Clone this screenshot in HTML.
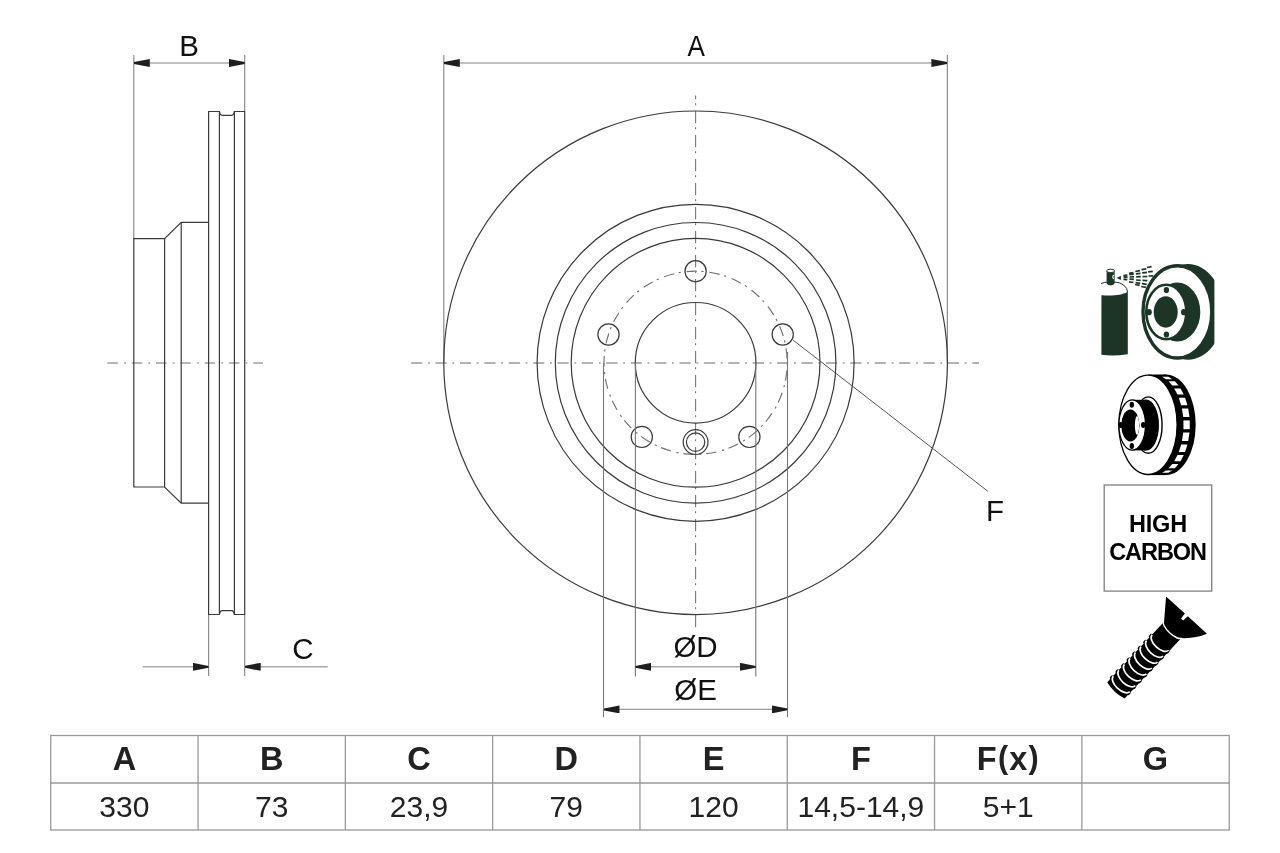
<!DOCTYPE html>
<html><head><meta charset="utf-8"><title>Brake disc</title>
<style>
html,body{margin:0;padding:0;background:#fff;width:1280px;height:853px;overflow:hidden}
svg{display:block;position:absolute;left:0;top:0}
text{font-family:"Liberation Sans",sans-serif;filter:grayscale(1)}
</style></head><body>
<svg width="1280" height="853" viewBox="0 0 1280 853">
<defs>
<marker id="ar" viewBox="0 0 16 8" refX="16" refY="4" markerWidth="16" markerHeight="8" markerUnits="userSpaceOnUse" orient="auto-start-reverse">
<path d="M0,0 L16,3.1 L16,4.9 L0,8 Z" fill="#1e1e1e"/>
</marker>
</defs>

<!-- ============ SIDE VIEW ============ -->
<g fill="none" stroke="#8c8c8c" stroke-width="1.2">
  <!-- B extension lines -->
  <line x1="133.8" y1="55" x2="133.8" y2="238.6"/>
  <line x1="244.7" y1="55" x2="244.7" y2="111.5"/>
  <!-- C extension lines -->
  <line x1="208.6" y1="614.5" x2="208.6" y2="676"/>
  <line x1="244.7" y1="614.5" x2="244.7" y2="676"/>
</g>
<!-- B dimension -->
<line x1="133.8" y1="63" x2="244.7" y2="63" stroke="#aaa" stroke-width="1.5" marker-start="url(#ar)" marker-end="url(#ar)"/>
<!-- C dimension -->
<line x1="142.8" y1="666.8" x2="208.6" y2="666.8" stroke="#aaa" stroke-width="1.5" marker-end="url(#ar)"/>
<line x1="327.7" y1="666.8" x2="244.7" y2="666.8" stroke="#aaa" stroke-width="1.5" marker-end="url(#ar)"/>

<!-- side center line -->
<line x1="107.4" y1="362.9" x2="263" y2="362.9" stroke="#a0a0a0" stroke-width="1.5" stroke-dasharray="10.5 6.3 1.7 5.8"/>
<g fill="none" stroke="#3a3a3a" stroke-width="1.2">
  <!-- disc outline -->
  <path d="M208.6,614.5 V111.5 H219.4 Q220,115.3 222,115.4 H231.8 Q233.8,115.3 234.4,111.5 H244.7 V614.5 H234.4 Q233.8,610.7 231.8,610.6 H222 Q220,610.7 219.4,614.5 Z"/>
  <line x1="219.4" y1="111.5" x2="219.4" y2="614.5"/>
  <line x1="234.4" y1="111.5" x2="234.4" y2="614.5"/>
  <!-- hub -->
  <path d="M208.6,222.4 H181.2 L164.6,238.6 H133.8 V487 H164.6 L181.2,503.1 H208.6"/>
  <line x1="181.2" y1="222.4" x2="181.2" y2="503.1"/>
  <line x1="164.6" y1="238.6" x2="164.6" y2="487"/>
</g>

<text x="189" y="55.5" font-size="29.5" text-anchor="middle" fill="#111">B</text>
<text x="303" y="658.5" font-size="29.5" text-anchor="middle" fill="#111">C</text>

<!-- ============ FRONT VIEW ============ -->
<g fill="none" stroke="#8c8c8c" stroke-width="1.2">
  <line x1="443.8" y1="55" x2="443.8" y2="362.8"/>
  <line x1="947.4" y1="55" x2="947.4" y2="362.8"/>
</g>
<line x1="443.8" y1="63" x2="947.4" y2="63" stroke="#aaa" stroke-width="1.5" marker-start="url(#ar)" marker-end="url(#ar)"/>
<text x="696.3" y="56" font-size="29.5" text-anchor="middle" fill="#111" textLength="17.4" lengthAdjust="spacingAndGlyphs">A</text>

<!-- PCD -->
<circle cx="695.6" cy="362.8" r="91.6" fill="none" stroke="#707070" stroke-width="1.15" stroke-dasharray="10.4 4.6 2.2 5.82" stroke-dashoffset="-7.52"/>
<!-- center lines -->
<line x1="411.1" y1="363" x2="979" y2="363" stroke="#9a9a9a" stroke-width="1.6" stroke-dasharray="11.2 5.7 1.8 5.7"/>
<line x1="695.6" y1="95.6" x2="695.6" y2="628.7" stroke="#777" stroke-width="1.1" stroke-dasharray="12.2 4 2 5.8" stroke-dashoffset="8.6"/>

<g fill="none" stroke="#3a3a3a" stroke-width="1.2">
  <circle cx="695.6" cy="362.8" r="251.8"/>
  <circle cx="695.6" cy="362.8" r="158.5"/>
  <circle cx="695.6" cy="362.8" r="140.3"/>
  <circle cx="695.6" cy="362.8" r="124.4"/>
  <circle cx="695.6" cy="362.8" r="60.3"/>
  <!-- bolt holes -->
  <circle cx="695.6" cy="271.2" r="10.6"/>
  <circle cx="782.7" cy="334.5" r="10.6"/>
  <circle cx="608.5" cy="334.5" r="10.6"/>
  <circle cx="749.4" cy="436.9" r="10.6"/>
  <circle cx="641.8" cy="436.9" r="10.6"/>
  <!-- set screw -->
  <circle cx="695.6" cy="442.1" r="12.4"/>
  <circle cx="695.6" cy="442.1" r="9.2"/>
</g>
<!-- D, E extension lines -->
<g stroke="#777" stroke-width="1.1">
  <line x1="635.4" y1="363" x2="635.4" y2="676.4"/>
  <line x1="755.8" y1="363" x2="755.8" y2="676.4"/>
  <line x1="603.5" y1="363" x2="603.5" y2="717.2"/>
  <line x1="787.5" y1="352" x2="787.5" y2="717.2"/>
</g>
<line x1="635.4" y1="666.8" x2="755.8" y2="666.8" stroke="#aaa" stroke-width="1.5" marker-start="url(#ar)" marker-end="url(#ar)"/>
<line x1="603.5" y1="709.4" x2="787.5" y2="709.4" stroke="#9c9c9c" stroke-width="1.25" marker-start="url(#ar)" marker-end="url(#ar)"/>
<text x="695.5" y="657" font-size="29.5" text-anchor="middle" fill="#111">ØD</text>
<text x="695.5" y="699.5" font-size="29.5" text-anchor="middle" fill="#111">ØE</text>

<!-- F leader -->
<line x1="793.2" y1="340.2" x2="987.9" y2="491.3" stroke="#555" stroke-width="1"/>
<text x="995" y="521" font-size="29.5" text-anchor="middle" fill="#111">F</text>

<!-- ============ TABLE ============ -->
<g fill="none" stroke="#999" stroke-width="1.3">
  <rect x="50.75" y="735.5" width="1178.5" height="94.5"/>
  <line x1="50.75" y1="783" x2="1229.25" y2="783"/>
</g>
<g fill="#222" text-anchor="middle">
<text x="124.40" y="770" font-size="32.5" font-weight="bold">A</text>
<text x="124.40" y="816.8" font-size="30">330</text>
<text x="271.70" y="770" font-size="32.5" font-weight="bold">B</text>
<text x="271.70" y="816.8" font-size="30">73</text>
<text x="419.00" y="770" font-size="32.5" font-weight="bold">C</text>
<text x="419.00" y="816.8" font-size="30">23,9</text>
<text x="566.30" y="770" font-size="32.5" font-weight="bold">D</text>
<text x="566.30" y="816.8" font-size="30">79</text>
<text x="713.60" y="770" font-size="32.5" font-weight="bold">E</text>
<text x="713.60" y="816.8" font-size="30">120</text>
<text x="860.90" y="770" font-size="32.5" font-weight="bold">F</text>
<text x="860.90" y="816.8" font-size="30">14,5-14,9</text>
<text x="1008.4" y="770.3" font-size="32.5" font-weight="bold" letter-spacing="1.2">F<tspan font-size="30.5" dy="-2.6">(</tspan><tspan dy="2.6">x</tspan><tspan font-size="30.5" dy="-2.6">)</tspan></text>
<text x="1008.20" y="816.8" font-size="30">5+1</text>
<text x="1155.50" y="770" font-size="32.5" font-weight="bold">G</text>
</g>
<g stroke="#999" stroke-width="1.3">
<line x1="198.05" y1="735.5" x2="198.05" y2="830"/>
<line x1="345.35" y1="735.5" x2="345.35" y2="830"/>
<line x1="492.65" y1="735.5" x2="492.65" y2="830"/>
<line x1="639.95" y1="735.5" x2="639.95" y2="830"/>
<line x1="787.25" y1="735.5" x2="787.25" y2="830"/>
<line x1="934.55" y1="735.5" x2="934.55" y2="830"/>
<line x1="1081.85" y1="735.5" x2="1081.85" y2="830"/>
</g>

<!-- ============ ICONS ============ -->
<!-- icon 1: spray + disc (dark green) -->
<g fill="#1c3526" stroke="none">
  <clipPath id="cp1"><rect x="1130" y="255" width="84.4" height="110"/></clipPath>
  <ellipse cx="1188" cy="311.85" rx="35.4" ry="47.85" clip-path="url(#cp1)"/>
  <ellipse cx="1177.4" cy="311.85" rx="34.4" ry="46.15" fill="#fff" stroke="#1c3526" stroke-width="3.4"/>
  <ellipse cx="1177.3" cy="312" rx="23" ry="29.5"/>
  <ellipse cx="1166.3" cy="312" rx="20" ry="27.2" fill="#fff" stroke="#1c3526" stroke-width="2.6"/>
  <ellipse cx="1165.7" cy="312" rx="12" ry="15.7"/>
  <ellipse cx="1166.4" cy="290" rx="2.7" ry="3.1"/>
  <ellipse cx="1166.4" cy="334.5" rx="2.7" ry="3.1"/>
  <ellipse cx="1149.1" cy="312.2" rx="2.7" ry="3.1"/>
  <ellipse cx="1183.7" cy="312.2" rx="2.7" ry="3.1"/>
  <!-- spray can -->
  <path d="M1101.4,295.2 C1110,295.7 1121,296 1127.8,291.8 V354.2 Q1114,356.2 1101.4,354.8 Z"/>
  <path d="M1101.1,283.6 Q1104,282.2 1108,282 M1114,282 A13.6,10.4 0 0 1 1127.6,292.4" fill="none" stroke="#1c3526" stroke-width="1"/>
  <path d="M1106.6,271 V282 Q1106,284.6 1110.6,285.4 Q1115.2,284.6 1114.6,282 V271 Z"/>
  <ellipse cx="1110.6" cy="270.9" rx="4" ry="1.7" fill="#fff" stroke="#1c3526" stroke-width="1"/>
  <path d="M1114,275.4 a1.3,1.6 0 1 0 0,3.2" fill="none" stroke="#fff" stroke-width="1.1"/>
  <path d="M1116.6,278 L1120.9,275.8 L1120.9,280 Z"/>
  <path d="M1123.4,275.6 L1127.4,275.1 M1123.6,277.3 L1127.6,277.2 M1123.5,279.3 L1127.4,279.7 M1129.0,273.4 L1133.4,272.6 M1129.3,274.7 L1133.7,274.2 M1129.6,277.0 L1134.0,276.9 M1129.5,279.2 L1133.9,279.4 M1129.0,281.8 L1133.4,282.5 M1135.3,271.5 L1139.9,270.7 M1135.9,273.8 L1140.5,273.4 M1136.2,276.8 L1140.8,276.7 M1136.1,280.0 L1140.7,280.3 M1135.6,282.7 L1140.2,283.3 M1135.1,284.5 L1139.6,285.3 M1141.5,269.6 L1146.2,268.8 M1142.2,272.8 L1147.0,272.3 M1142.6,276.6 L1147.4,276.5 M1142.5,280.4 L1147.3,280.7 M1141.9,283.7 L1146.7,284.4 M1141.2,286.5 L1145.9,287.4 M1147.1,267.5 L1151.6,266.7 M1148.1,271.8 L1152.7,271.4 M1148.6,276.0 L1153.2,275.8" fill="none" stroke="#1c3526" stroke-width="1.7" stroke-linecap="butt"/>
</g>

<!-- icon 2: vented disc (black) -->
<g fill="#000">
  <ellipse cx="1166" cy="424.8" rx="29.7" ry="50.3"/>
  <rect x="1148" y="374.5" width="18" height="100.6"/>
  <g fill="#fff">
    <polygon points="1162.02,376.73 1168.32,376.73 1172.24,379.13 1165.94,379.13"/>
    <polygon points="1168.53,381.33 1174.83,381.33 1178.59,385.61 1172.29,385.61"/>
    <polygon points="1174.22,388.42 1180.52,388.42 1183.77,394.49 1177.47,394.49"/>
    <polygon points="1178.79,397.64 1185.09,397.64 1187.47,405.18 1181.17,405.18"/>
    <polygon points="1181.93,408.51 1188.23,408.51 1189.49,416.99 1183.19,416.99"/>
    <polygon points="1183.43,420.40 1189.73,420.40 1189.73,429.20 1183.43,429.20"/>
    <polygon points="1183.19,432.61 1189.49,432.61 1188.23,441.09 1181.93,441.09"/>
    <polygon points="1181.17,444.42 1187.47,444.42 1185.09,451.96 1178.79,451.96"/>
    <polygon points="1177.47,455.11 1183.77,455.11 1180.52,461.18 1174.22,461.18"/>
    <polygon points="1172.29,463.99 1178.59,463.99 1174.83,468.27 1168.53,468.27"/>
    <polygon points="1165.94,470.47 1172.24,470.47 1168.32,472.87 1162.02,472.87"/>
  </g>
  <ellipse cx="1148" cy="424.8" rx="29.1" ry="49.7" fill="#fff" stroke="#000" stroke-width="1.3"/>
  <ellipse cx="1148.3" cy="425.1" rx="13.8" ry="28.2" fill="#fff" stroke="#000" stroke-width="1.4"/>
  <ellipse cx="1146" cy="425.1" rx="13" ry="25.5"/>
  <rect x="1132" y="399.8" width="14" height="50.6"/>
  <ellipse cx="1132.2" cy="425" rx="13.3" ry="25.2" fill="#fff" stroke="#000" stroke-width="1.3"/>
  <ellipse cx="1130.4" cy="425.45" rx="9.1" ry="16.05"/>
  <ellipse cx="1137" cy="425.4" rx="2.1" ry="9.5" fill="#fff"/>
  <ellipse cx="1131.8" cy="404.8" rx="2.2" ry="3"/>
  <ellipse cx="1131.8" cy="446.1" rx="2.2" ry="3"/>
  <ellipse cx="1120.6" cy="424.9" rx="2.2" ry="3"/>
  <ellipse cx="1143.2" cy="424.9" rx="2.2" ry="3"/>
</g>

<!-- icon 3: HIGH CARBON -->
<rect x="1104.2" y="485" width="107.5" height="106.1" fill="none" stroke="#888" stroke-width="1.4"/>
<g font-weight="bold" font-size="23.5" fill="#000" text-anchor="middle" letter-spacing="-0.8">
  <text x="1158" y="531.6" letter-spacing="-0.2">HIGH</text>
  <text x="1157.6" y="560" letter-spacing="-1.05">CARBON</text>
</g>

<!-- icon 4: bolt -->
<g transform="translate(1115.3,690.5) rotate(-46.8)" fill="#000">
  <path d="M0.5,-11.5 H83.5 L103.2,-27.3 L103.8,-2 L97.5,-1.4 L97.5,1.4 L103.9,2 L104.1,28 Q92,22.5 83.5,12.3 H0.5 Q-3,0 0.5,-11.5 Z"/>
  <ellipse cx="64.0" cy="-11.6" rx="2.3" ry="1.5"/><ellipse cx="64.0" cy="11.6" rx="2.3" ry="1.5"/><ellipse cx="55.9" cy="-11.6" rx="2.3" ry="1.5"/><ellipse cx="55.9" cy="11.6" rx="2.3" ry="1.5"/><ellipse cx="47.8" cy="-11.6" rx="2.3" ry="1.5"/><ellipse cx="47.8" cy="11.6" rx="2.3" ry="1.5"/><ellipse cx="39.7" cy="-11.6" rx="2.3" ry="1.5"/><ellipse cx="39.7" cy="11.6" rx="2.3" ry="1.5"/><ellipse cx="31.6" cy="-11.6" rx="2.3" ry="1.5"/><ellipse cx="31.6" cy="11.6" rx="2.3" ry="1.5"/><ellipse cx="23.5" cy="-11.6" rx="2.3" ry="1.5"/><ellipse cx="23.5" cy="11.6" rx="2.3" ry="1.5"/><ellipse cx="15.4" cy="-11.6" rx="2.3" ry="1.5"/><ellipse cx="15.4" cy="11.6" rx="2.3" ry="1.5"/><ellipse cx="7.3" cy="-11.6" rx="2.3" ry="1.5"/><ellipse cx="7.3" cy="11.6" rx="2.3" ry="1.5"/>
  <path d="M83.8,-12.4 A4.5,12.4 0 0 0 83.8,12.4" fill="none" stroke="#fff" stroke-width="1.4"/>
  <path d="M65.8,-11.3 A6,11.3 0 0 0 65.8,11.3 M57.7,-11.3 A6,11.3 0 0 0 57.7,11.3 M49.6,-11.3 A6,11.3 0 0 0 49.6,11.3 M41.5,-11.3 A6,11.3 0 0 0 41.5,11.3 M33.4,-11.3 A6,11.3 0 0 0 33.4,11.3 M25.3,-11.3 A6,11.3 0 0 0 25.3,11.3 M17.2,-11.3 A6,11.3 0 0 0 17.2,11.3 M9.1,-11.3 A6,11.3 0 0 0 9.1,11.3" fill="none" stroke="#fff" stroke-width="1.7"/>
</g>
</svg>
</body></html>
